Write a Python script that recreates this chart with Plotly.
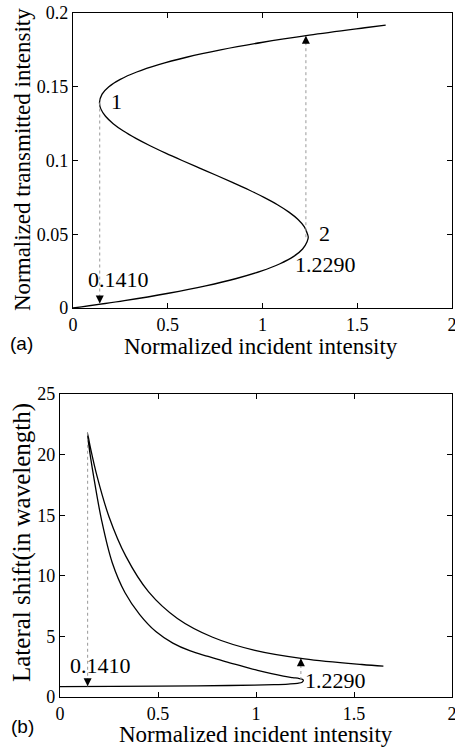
import plotly.graph_objects as go

# ---- data (parametric S-curve, ordered along the curve) ----
transmitted = [0.000, 0.005, 0.010, 0.015, 0.020, 0.025, 0.030, 0.035, 0.040, 0.045,
               0.048, 0.050, 0.055, 0.060, 0.065, 0.070, 0.075, 0.080, 0.085, 0.090,
               0.095, 0.100, 0.105, 0.110, 0.115, 0.120, 0.125, 0.130, 0.135, 0.1393,
               0.145, 0.150, 0.155, 0.160, 0.165, 0.170, 0.175, 0.180, 0.185, 0.190, 0.1918]
incident = [0.0000, 0.2712, 0.5039, 0.7002, 0.8622, 0.9922, 1.0923, 1.1648, 1.2116, 1.2352,
            1.2415, 1.2376, 1.2210, 1.1876, 1.1395, 1.0790, 1.0080, 0.9291, 0.8440, 0.7556,
            0.6650, 0.5757, 0.4890, 0.4068, 0.3319, 0.2662, 0.2121, 0.1716, 0.1468, 0.1399,
            0.1535, 0.1893, 0.2495, 0.3364, 0.4522, 0.5990, 0.7790, 0.9944, 1.2474, 1.5401, 1.6500]
shift = [0.85, 0.87, 0.89, 0.92, 0.95, 0.98, 1.02, 1.07, 1.13, 1.22,
         1.40, 1.45, 1.52, 1.60, 1.72, 1.92, 2.20, 2.55, 2.92, 3.35,
         3.80, 4.45, 5.40, 6.80, 8.60, 11.10, 14.60, 18.20, 20.80, 21.80,
         20.70, 18.20, 14.90, 11.60, 8.67, 6.48, 4.93, 3.85, 3.15, 2.68, 2.55]

# switching thresholds and jumps
thresholds = [0.141, 1.229]
threshold_labels = ["0.1410", "1.2290"]
jump_a_from = [0.1393, 0.048]     # transmitted intensity at turning points
jump_a_to = [0.003, 0.1846]       # landing on the other branch
jump_b_from = [21.8, 1.40]        # lateral shift at turning points
jump_b_to = [0.88, 3.19]

x_ticks = [0, 0.5, 1, 1.5, 2]
x_ticktext = ["0", "0.5", "1", "1.5", "2"]
ya_ticks = [0, 0.05, 0.1, 0.15, 0.2]
ya_ticktext = ["0", "0.05", "0.1", "0.15", "0.2"]
yb_ticks = [0, 5, 10, 15, 20, 25]
yb_ticktext = ["0", "5", "10", "15", "20", "25"]

SERIF = "Liberation Serif, Times New Roman, serif"
SANS = "Liberation Sans, Arial, sans-serif"
W, H = 455, 749

fig = go.Figure()
line_style = dict(color="black", width=1.3, shape="spline", smoothing=1.0)
fig.add_trace(go.Scatter(x=incident, y=transmitted, mode="lines", line=line_style,
                         xaxis="x", yaxis="y", hoverinfo="skip"))
fig.add_trace(go.Scatter(x=incident, y=shift, mode="lines", line=line_style,
                         xaxis="x2", yaxis="y2", hoverinfo="skip"))

dot = dict(color="#999999", width=1, dash="dot")
for i in range(2):
    fig.add_trace(go.Scatter(x=[thresholds[i], thresholds[i]], y=[jump_a_from[i], jump_a_to[i]],
                             mode="lines", line=dot, xaxis="x", yaxis="y", hoverinfo="skip"))
    fig.add_trace(go.Scatter(x=[thresholds[i], thresholds[i]], y=[jump_b_from[i], jump_b_to[i]],
                             mode="lines", line=dot, xaxis="x2", yaxis="y2", hoverinfo="skip"))

axis_common = dict(ticks="inside", ticklen=5, tickwidth=1, tickcolor="black",
                   showline=True, linecolor="black", linewidth=1.3, mirror="ticks",
                   showgrid=False, zeroline=False, automargin=False,
                   ticklabeloverflow="allow",
                   tickfont=dict(family=SERIF, size=18, color="black"))

fig.update_layout(
    width=W, height=H, margin=dict(l=0, r=0, t=0, b=0, pad=0),
    paper_bgcolor="white", plot_bgcolor="white", showlegend=False,
    xaxis=dict(domain=[73 / W, 452 / W], range=[0, 2], anchor="y",
               tickvals=x_ticks, ticktext=x_ticktext, **axis_common),
    yaxis=dict(domain=[1 - 308 / H, 1 - 13 / H], range=[0, 0.2], anchor="x",
               tickvals=ya_ticks, ticktext=ya_ticktext, **axis_common),
    xaxis2=dict(domain=[60 / W, 452 / W], range=[0, 2], anchor="y2",
                tickvals=x_ticks, ticktext=x_ticktext, **axis_common),
    yaxis2=dict(domain=[1 - 697 / H, 1 - 394 / H], range=[0, 25], anchor="x2",
                tickvals=yb_ticks, ticktext=yb_ticktext, **axis_common),
)

ann = []
tfont = dict(family=SERIF, size=23, color="black")
lfont = dict(family=SERIF, size=22, color="black")
C = dict(xanchor="center", yanchor="middle", showarrow=False)
# axis titles
ann.append(dict(text="Normalized incident intensity", xref="paper", yref="paper",
                x=261 / W, y=1 - 346 / H, font=tfont, **C))
ann.append(dict(text="Normalized transmitted intensity", xref="paper", yref="paper",
                x=22 / W, y=1 - 160 / H, font=tfont, textangle=-90, **C))
ann.append(dict(text="Normalized incident intensity", xref="paper", yref="paper",
                x=256 / W, y=1 - 734 / H, font=tfont, **C))
ann.append(dict(text="Lateral shift(in wavelength)", xref="paper", yref="paper",
                x=22 / W, y=1 - 543 / H, font=dict(family=SERIF, size=25, color="black"),
                textangle=-90, **C))
# panel labels
pfont = dict(family=SANS, size=19, color="black")
ann.append(dict(text="(a)", xref="paper", yref="paper", x=21 / W, y=1 - 344 / H,
                font=pfont, **C))
ann.append(dict(text="(b)", xref="paper", yref="paper", x=22 / W, y=1 - 726 / H,
                font=pfont, **C))
# point labels, top
ann.append(dict(text="1", xref="x", yref="y", x=0.232, y=0.140, font=lfont, **C))
ann.append(dict(text="2", xref="x", yref="y", x=1.326, y=0.0506, font=lfont, **C))
ann.append(dict(text=threshold_labels[0], xref="x", yref="y", x=0.239, y=0.019,
                font=lfont, **C))
ann.append(dict(text=threshold_labels[1], xref="x", yref="y", x=1.335, y=0.0292,
                font=lfont, **C))
# point labels, bottom
ann.append(dict(text=threshold_labels[0], xref="x2", yref="y2", x=0.209, y=2.56,
                font=lfont, **C))
ann.append(dict(text=threshold_labels[1], xref="x2", yref="y2", x=1.407, y=1.40,
                font=lfont, **C))
# arrow heads
arrow = dict(text="", showarrow=True, arrowhead=2, arrowsize=1.6, arrowwidth=1,
             arrowcolor="black", ax=0)
ann.append(dict(xref="x", yref="y", x=thresholds[0], y=jump_a_to[0], ay=-9, **arrow))
ann.append(dict(xref="x", yref="y", x=thresholds[1], y=jump_a_to[1], ay=9, **arrow))
ann.append(dict(xref="x2", yref="y2", x=thresholds[0], y=jump_b_to[0], ay=-9, **arrow))
ann.append(dict(xref="x2", yref="y2", x=thresholds[1], y=jump_b_to[1], ay=9, **arrow))

fig.update_layout(annotations=ann)
fig.write_html("out.html", config={"displayModeBar": False},
               post_script="document.body.style.margin='0';document.body.style.overflow='hidden';")
